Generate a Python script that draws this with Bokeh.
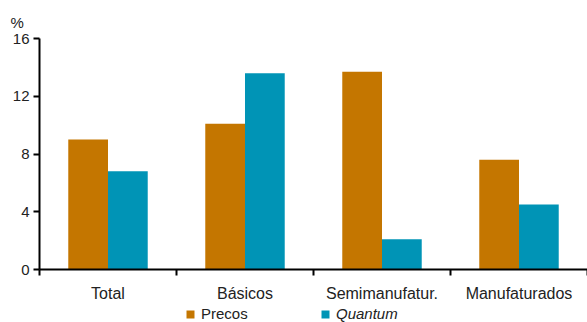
from bokeh.plotting import figure
from bokeh.layouts import column
from bokeh.models import ColumnDataSource, Range1d, FixedTicker, Legend, LegendItem
from bokeh.embed import file_html
from bokeh.resources import INLINE

categories = ["Total", "Básicos", "Semimanufatur.", "Manufaturados"]
precos = [9.0, 10.1, 13.7, 7.6]
quantum = [6.8, 13.6, 2.1, 4.5]
y_ticks = [0, 4, 8, 12, 16]
series_names = ["Precos", "Quantum"]

ORANGE = "#C47600"
TEAL = "#0094B6"
FONT = "Liberation Sans"
TXT = "#222222"
bw = 0.29

centers = [i + 0.5 for i in range(len(categories))]
src = ColumnDataSource(dict(
    xp=[c - bw / 2 for c in centers],
    xq=[c + bw / 2 for c in centers],
    precos=precos, quantum=quantum))

p = figure(width=587, height=304, output_backend="svg", toolbar_location=None,
           x_range=Range1d(0, len(categories)), y_range=Range1d(0, 16),
           min_border_left=39, min_border_right=0, min_border_top=38, min_border_bottom=34)
p.outline_line_color = None
p.grid.visible = False

p.vbar(x="xp", top="precos", width=bw, source=src, color=ORANGE, line_color=None)
p.vbar(x="xq", top="quantum", width=bw, source=src, color=TEAL, line_color=None)

xa = p.xaxis[0]
xa.ticker = FixedTicker(ticks=centers, minor_ticks=list(range(len(categories) + 1)))
xa.major_label_overrides = {c: lab for c, lab in zip(centers, categories)}
xa.major_tick_out = 0
xa.major_tick_in = 0
xa.minor_tick_out = 6
xa.minor_tick_in = 0
xa.minor_tick_line_width = 2
xa.minor_tick_line_color = "black"
xa.axis_line_width = 2
xa.major_label_standoff = 9
xa.major_label_text_font = FONT
xa.major_label_text_font_size = "16px"
xa.major_label_text_color = TXT

ya = p.yaxis[0]
ya.ticker = FixedTicker(ticks=y_ticks, minor_ticks=[])
ya.major_tick_out = 6
ya.major_tick_in = 0
ya.major_tick_line_width = 2
ya.axis_line_width = 2
ya.major_label_standoff = 4
ya.major_label_text_font = FONT
ya.major_label_text_font_size = "15px"
ya.major_label_text_color = TXT

p.title.text = "%"
p.title.align = "left"
p.title.offset = -29
p.title.standoff = 16
p.title.text_font = FONT
p.title.text_font_size = "15px"
p.title.text_font_style = "normal"
p.title.text_color = TXT

# legend strip below the chart (its bars lie far outside the visible ranges; only legend swatches show)
lf = figure(width=587, height=18, output_backend="svg", toolbar_location=None,
            x_range=Range1d(50, 51), y_range=Range1d(50, 51),
            min_border_left=0, min_border_right=0, min_border_top=0, min_border_bottom=0)
lf.axis.visible = False
lf.grid.visible = False
lf.outline_line_color = None
dp = lf.vbar(x="xp", top="precos", width=bw, source=src, color=ORANGE, line_color=None)
dq = lf.vbar(x="xq", top="quantum", width=bw, source=src, color=TEAL, line_color=None)

def mk_legend(r, label, style, x):
    lg = Legend(items=[LegendItem(label=label, renderers=[r], index=0)], location=(x, 0),
                orientation="horizontal", glyph_width=10, glyph_height=10,
                label_height=10, label_standoff=6, padding=0, margin=0, spacing=0,
                border_line_color=None, background_fill_alpha=0,
                label_text_font=FONT, label_text_font_size="15px",
                label_text_font_style=style, label_text_color=TXT)
    lf.add_layout(lg, "center")

mk_legend(dp, series_names[0], "normal", 146)
mk_legend(dq, series_names[1], "italic", 281)

layout = column(p, lf, spacing=0)
open("out.html", "w").write(file_html(layout, INLINE))
